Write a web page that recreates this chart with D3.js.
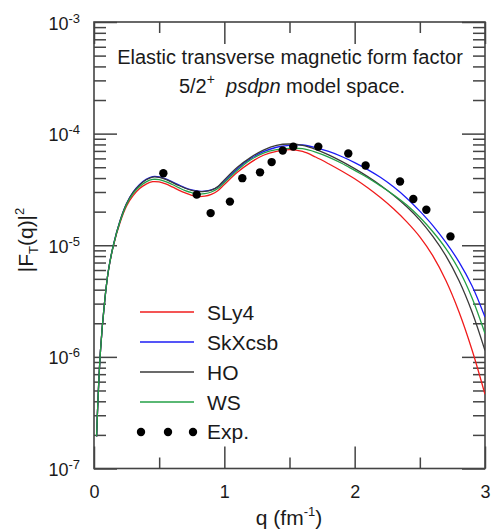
<!DOCTYPE html>
<html><head><meta charset="utf-8">
<script src="https://cdn.jsdelivr.net/npm/d3@7"></script>
<style>
body{margin:0;background:#fff}
svg{display:block}
text{font-family:"Liberation Sans",Arial,sans-serif;fill:#1a1a1a}
</style>
</head><body>
<svg id="chart" width="491" height="531"></svg>
<script>
// ---------- data ----------
const qValues = [0.02,0.03,0.05,0.08,0.11,0.15,0.2,0.25,0.3,0.35,0.4,0.45,0.5,0.55,0.6,0.65,0.7,0.75,0.8,0.85,0.9,0.95,1.0,1.1,1.2,1.3,1.4,1.5,1.6,1.7,1.8,1.9,2.0,2.1,2.2,2.3,2.4,2.5,2.6,2.7,2.8,2.9,3.0];
const sly4   = [1.94e-7,4.0e-7,1.15e-6,3.0e-6,5.85e-6,1.0e-5,1.6e-5,2.25e-5,2.78e-5,3.22e-5,3.53e-5,3.71e-5,3.69e-5,3.54e-5,3.33e-5,3.12e-5,2.94e-5,2.8e-5,2.73e-5,2.75e-5,2.86e-5,3.08e-5,3.5e-5,4.5e-5,5.5e-5,6.4e-5,6.95e-5,7.2e-5,6.92e-5,6.17e-5,5.37e-5,4.62e-5,3.94e-5,3.27e-5,2.66e-5,2.11e-5,1.62e-5,1.19e-5,8.04e-6,4.84e-6,2.54e-6,1.16e-6,4.62e-7];
const skxcsb = [1.94e-7,4.0e-7,1.15e-6,3.0e-6,5.9e-6,1.02e-5,1.66e-5,2.37e-5,2.99e-5,3.5e-5,3.89e-5,4.12e-5,4.1e-5,3.94e-5,3.7e-5,3.47e-5,3.27e-5,3.13e-5,3.05e-5,3.05e-5,3.13e-5,3.32e-5,3.75e-5,4.85e-5,5.95e-5,6.9e-5,7.55e-5,7.85e-5,7.91e-5,7.5e-5,6.92e-5,6.24e-5,5.5e-5,4.76e-5,4.04e-5,3.32e-5,2.64e-5,2.02e-5,1.5e-5,1.06e-5,7.1e-6,4.33e-6,2.27e-6];
const ho     = [1.94e-7,4.0e-7,1.15e-6,3.0e-6,5.9e-6,1.02e-5,1.66e-5,2.36e-5,2.97e-5,3.47e-5,3.86e-5,4.08e-5,4.06e-5,3.9e-5,3.66e-5,3.43e-5,3.24e-5,3.1e-5,3.03e-5,3.04e-5,3.12e-5,3.35e-5,3.85e-5,5.0e-5,6.1e-5,7.12e-5,7.85e-5,8.07e-5,7.85e-5,7.24e-5,6.46e-5,5.65e-5,4.86e-5,4.12e-5,3.43e-5,2.79e-5,2.21e-5,1.68e-5,1.20e-5,8.04e-6,4.84e-6,2.54e-6,1.14e-6];
const ws     = [1.94e-7,4.0e-7,1.15e-6,3.0e-6,5.88e-6,1.01e-5,1.63e-5,2.32e-5,2.9e-5,3.36e-5,3.7e-5,3.89e-5,3.87e-5,3.72e-5,3.5e-5,3.28e-5,3.09e-5,2.96e-5,2.88e-5,2.9e-5,3.0e-5,3.22e-5,3.65e-5,4.7e-5,5.8e-5,6.7e-5,7.2e-5,7.38e-5,7.33e-5,6.84e-5,6.17e-5,5.43e-5,4.68e-5,4.03e-5,3.39e-5,2.82e-5,2.29e-5,1.78e-5,1.32e-5,9.33e-6,6.03e-6,3.39e-6,1.62e-6];
const expQ = [0.532,0.788,0.895,1.043,1.138,1.274,1.363,1.448,1.529,1.721,1.951,2.084,2.348,2.450,2.550,2.735];
const expF = [4.41e-5,2.84e-5,1.94e-5,2.46e-5,3.99e-5,4.5e-5,5.56e-5,7.06e-5,7.65e-5,7.65e-5,6.63e-5,5.18e-5,3.72e-5,2.6e-5,2.08e-5,1.2e-5];
const seriesNames = ["SLy4","SkXcsb","HO","WS"];
const expName = "Exp.";
const xMajorTicks = [0,1,2,3];
const xMinorTicks = [0.5,1.5,2.5];
const yDecadeExps = [-7,-6,-5,-4,-3];
const titleLine1 = "Elastic transverse magnetic form factor";

// ---------- layout / style ----------
const seriesColors = ["#f01c1c","#1c1cf5","#3a3a3a","#23a046"];
const M = {l:94, r:485, t:22, b:468.5};
const svg = d3.select("#chart");
const x = d3.scaleLinear().domain([0,3]).range([M.l, M.r]);
const y = d3.scaleLog().domain([1e-7,1e-3]).range([M.b, M.t]);
const axisColor = "#444";

const yMajor = yDecadeExps.map(e => Math.pow(10,e));
const yMinor = [];
yDecadeExps.slice(0,-1).forEach(e => { for (let k=2;k<=9;k++) yMinor.push(k*Math.pow(10,e)); });

function styleAxis(g){
  g.attr("color", axisColor);
  g.select(".domain").remove();
  g.selectAll(".tick line").attr("stroke-width",1.5);
}
// bottom
svg.append("g").attr("transform",`translate(0,${M.b})`)
  .call(d3.axisBottom(x).tickValues(xMajorTicks).tickSize(-22).tickPadding(17).tickFormat(d3.format("d")))
  .call(styleAxis)
  .call(g => g.selectAll("text").attr("font-size",18).attr("fill","#1a1a1a").attr("font-family","Liberation Sans, Arial, sans-serif"));
svg.append("g").attr("transform",`translate(0,${M.b})`)
  .call(d3.axisBottom(x).tickValues(xMinorTicks).tickSize(-11).tickFormat(""))
  .call(styleAxis);
// top
svg.append("g").attr("transform",`translate(0,${M.t})`)
  .call(d3.axisTop(x).tickValues(xMajorTicks).tickSize(-22).tickFormat(""))
  .call(styleAxis);
svg.append("g").attr("transform",`translate(0,${M.t})`)
  .call(d3.axisTop(x).tickValues(xMinorTicks).tickSize(-11).tickFormat(""))
  .call(styleAxis);
// left
svg.append("g").attr("transform",`translate(${M.l},0)`)
  .call(d3.axisLeft(y).tickValues(yMajor).tickSize(-23).tickFormat(""))
  .call(styleAxis);
svg.append("g").attr("transform",`translate(${M.l},0)`)
  .call(d3.axisLeft(y).tickValues(yMinor).tickSize(-12).tickFormat(""))
  .call(styleAxis);
// right
svg.append("g").attr("transform",`translate(${M.r},0)`)
  .call(d3.axisRight(y).tickValues(yMajor).tickSize(-23).tickFormat(""))
  .call(styleAxis);
svg.append("g").attr("transform",`translate(${M.r},0)`)
  .call(d3.axisRight(y).tickValues(yMinor).tickSize(-12).tickFormat(""))
  .call(styleAxis);
// frame
svg.append("rect").attr("x",M.l).attr("y",M.t).attr("width",M.r-M.l).attr("height",M.b-M.t)
  .attr("fill","none").attr("stroke",axisColor).attr("stroke-width",1.6);

// y tick labels 10^n
yDecadeExps.forEach(e => {
  const t = svg.append("text").attr("x",80).attr("y",y(Math.pow(10,e))+7.5)
    .attr("text-anchor","end").attr("font-size",18);
  t.append("tspan").text("10");
  t.append("tspan").attr("font-size",13).attr("dy",-7).text(String(e));
});

// clip
svg.append("clipPath").attr("id","clip").append("rect")
  .attr("x",M.l).attr("y",M.t).attr("width",M.r-M.l).attr("height",M.b-M.t);

const seriesValues = [sly4, skxcsb, ho, ws];
const line = d3.line().x(d=>x(d[0])).y(d=>y(d[1])).curve(d3.curveCatmullRom.alpha(0.5));
const plot = svg.append("g").attr("clip-path","url(#clip)");
seriesValues.forEach((vals,i) => {
  plot.append("path").datum(qValues.map((q,j)=>[q,vals[j]]))
    .attr("d",line).attr("fill","none").attr("stroke",seriesColors[i]).attr("stroke-width",1.3);
});
svg.append("g").selectAll("circle").data(expQ.map((q,i)=>[q,expF[i]])).join("circle")
  .attr("cx",d=>x(d[0])).attr("cy",d=>y(d[1])).attr("r",4.2).attr("fill","#000");

// title
svg.append("text").attr("x",290).attr("y",64).attr("text-anchor","middle").attr("font-size",20).text(titleLine1);
const t2 = svg.append("text").attr("x",292).attr("y",93).attr("text-anchor","middle").attr("font-size",20);
t2.append("tspan").text("5/2");
t2.append("tspan").attr("font-size",14).attr("dy",-9).text("+");
t2.append("tspan").attr("dy",9).text("\u00a0\u00a0");
t2.append("tspan").attr("font-style","italic").text("psdpn");
t2.append("tspan").text(" model space.");

// axis titles
const xt = svg.append("text").attr("x",289).attr("y",525).attr("text-anchor","middle").attr("font-size",21);
xt.append("tspan").text("q (fm");
xt.append("tspan").attr("font-size",13).attr("dy",-9).text("-1");
xt.append("tspan").attr("dy",9).text(")");
const yt = svg.append("text").attr("transform","translate(33,240) rotate(-90)").attr("text-anchor","middle").attr("font-size",21);
yt.append("tspan").text("|F");
yt.append("tspan").attr("font-size",13).attr("dy",5).text("T");
yt.append("tspan").attr("dy",-5).text("(q)|");
yt.append("tspan").attr("font-size",13).attr("dy",-9).text("2");

// legend
const legY = [312,342,372,402];
seriesNames.forEach((n,i) => {
  svg.append("line").attr("x1",140).attr("x2",194).attr("y1",legY[i]).attr("y2",legY[i])
    .attr("stroke",seriesColors[i]).attr("stroke-width",1.5);
  svg.append("text").attr("x",207).attr("y",legY[i]+7.5).attr("font-size",21).text(n);
});
[141,168,193].forEach(cx => svg.append("circle").attr("cx",cx).attr("cy",432).attr("r",4.2).attr("fill","#000"));
svg.append("text").attr("x",207).attr("y",439).attr("font-size",21).text(expName);
</script>
</body></html>
